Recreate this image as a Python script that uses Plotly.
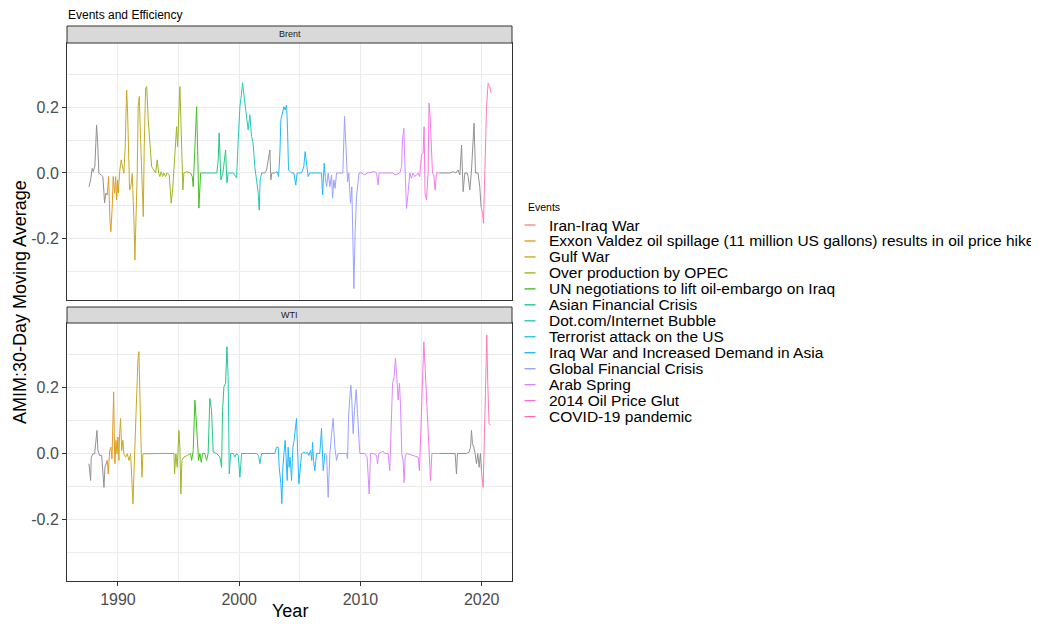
import plotly.graph_objects as go

# ---------------- data ----------------
EVENTS = [
    "Iran-Iraq War",
    "Exxon Valdez oil spillage (11 million US gallons) results in oil price hike",
    "Gulf War",
    "Over production by OPEC",
    "UN negotiations to lift oil-embargo on Iraq",
    "Asian Financial Crisis",
    "Dot.com/Internet Bubble",
    "Terrorist attack on the US",
    "Iraq War and Increased Demand in Asia",
    "Global Financial Crisis",
    "Arab Spring",
    "2014 Oil Price Glut",
    "COVID-19 pandemic",
]
EVENT_COLORS = ["#F8766D", "#E18A00", "#BE9C00", "#8CAB00", "#24B700", "#00BE70",
                "#00C1AB", "#00BBDA", "#00ACFC", "#8B93FF", "#D575FE", "#F962DD", "#FF65AC"]
EVENT_START = [None, 1989.15, 1990.05, 1992.32, 1996.0, 1997.5, 1999.05, 2001.7,
               2003.0, 2007.1, 2009.9, 2014.9, 2020.0]
EVENT_END = [None, 1990.05, 1992.32, 1996.0, 1997.5, 1999.05, 2001.7, 2001.95,
             2007.1, 2009.9, 2014.9, 2016.9, 2021.5]
NO_EVENT_COLOR = "#7F7F7F"

BRENT_YEAR = [
    1987.61, 1987.75, 1987.88, 1987.96, 1988.10, 1988.24, 1988.33, 1988.39, 1988.43, 1988.62,
    1988.76, 1988.90, 1989.01, 1989.12, 1989.23, 1989.34, 1989.42, 1989.53, 1989.61, 1989.73,
    1989.81, 1989.89, 1989.97, 1990.02, 1990.08, 1990.16, 1990.27, 1990.39, 1990.49, 1990.60,
    1990.72, 1990.80, 1990.88, 1990.96, 1991.07, 1991.18, 1991.32, 1991.40, 1991.48, 1991.59,
    1991.67, 1991.76, 1991.87, 1991.98, 1992.09, 1992.17, 1992.28, 1992.37, 1992.50, 1992.64,
    1992.78, 1992.97, 1993.11, 1993.24, 1993.36, 1993.46, 1993.57, 1993.69, 1993.79, 1993.93,
    1994.06, 1994.23, 1994.39, 1994.51, 1994.62, 1994.72, 1994.84, 1994.92, 1995.03, 1995.11,
    1995.19, 1995.28, 1995.36, 1995.44, 1995.71, 1995.99, 1996.13, 1996.21, 1996.35, 1996.49,
    1996.60, 1996.68, 1996.82, 1997.03, 1997.58, 1998.16, 1998.27, 1998.35, 1998.43, 1998.49,
    1998.66, 1998.88, 1998.99, 1999.09, 1999.51, 1999.79, 1999.92, 2000.06, 2000.18, 2000.28,
    2000.47, 2000.61, 2000.74, 2000.88, 2001.02, 2001.15, 2001.29, 2001.43, 2001.57, 2001.65,
    2001.73, 2001.85, 2002.12, 2002.26, 2002.53, 2002.61, 2002.70, 2002.94, 2003.13, 2003.25,
    2003.36, 2003.44, 2003.58, 2003.69, 2003.79, 2003.91, 2003.99, 2004.07, 2004.32, 2004.51,
    2004.67, 2004.78, 2005.14, 2005.33, 2005.44, 2005.56, 2005.69, 2005.83, 2006.79, 2006.88,
    2007.01, 2007.09, 2007.21, 2007.34, 2007.48, 2007.62, 2007.70, 2007.81, 2007.91, 2008.03,
    2008.55, 2008.69, 2008.80, 2008.94, 2009.04, 2009.18, 2009.29, 2009.40, 2009.46, 2009.56,
    2009.68, 2009.79, 2009.89, 2010.09, 2010.36, 2010.55, 2011.19, 2011.33, 2011.46, 2011.54,
    2012.70, 2012.84, 2013.25, 2013.39, 2013.47, 2013.58, 2013.69, 2013.80, 2013.93, 2014.07,
    2014.21, 2014.34, 2014.48, 2014.76, 2014.88, 2015.04, 2015.17, 2015.25, 2015.33, 2015.45,
    2015.58, 2015.66, 2015.75, 2015.86, 2015.94, 2016.05, 2016.16, 2016.27, 2016.55, 2017.10,
    2017.37, 2017.64, 2017.87, 2018.05, 2018.20, 2018.34, 2018.47, 2018.61, 2018.80, 2018.88,
    2019.02, 2019.16, 2019.29, 2019.37, 2019.49, 2019.70, 2019.84, 2019.95, 2020.07, 2020.15,
    2020.26, 2020.40, 2020.53, 2020.67, 2020.78,
]
BRENT_AMIM = [
    -0.042, -0.021, 0.014, 0.004, 0.021, 0.146, 0.091, 0.040, -0.001, -0.006,
    -0.011, -0.091, -0.061, -0.067, -0.011, -0.143, -0.179, -0.103, -0.011, -0.062,
    -0.011, -0.082, -0.021, -0.061, -0.011, 0.009, 0.040, 0.019, -0.001, 0.080,
    0.253, 0.182, 0.019, -0.052, -0.042, -0.001, -0.143, -0.265, -0.153, -0.001,
    0.202, 0.233, 0.101, -0.001, -0.133, 0.080, 0.258, 0.263, 0.162, 0.080,
    0.019, 0.009, 0.000, 0.040, -0.001, -0.011, 0.004, -0.011, 0.000, -0.011,
    0.000, -0.006, -0.092, -0.052, 0.019, 0.101, 0.141, 0.080, 0.202, 0.263,
    0.162, 0.030, -0.052, 0.000, 0.004, 0.000, -0.011, -0.042, 0.111, 0.202,
    0.030, -0.107, 0.000, 0.000, 0.000, 0.000, 0.040, 0.122, 0.040, -0.021,
    0.000, 0.070, -0.030, 0.000, 0.000, -0.015, 0.101, 0.202, 0.238, 0.275,
    0.213, 0.162, 0.131, 0.177, 0.111, 0.091, 0.019, -0.021, -0.062, -0.113,
    -0.021, 0.000, 0.000, 0.009, 0.070, -0.021, 0.000, 0.000, 0.004, -0.011,
    0.061, 0.162, 0.182, 0.202, 0.192, 0.207, 0.131, 0.009, 0.000, 0.000,
    -0.037, 0.000, 0.000, 0.019, 0.065, 0.019, -0.011, 0.000, 0.000, -0.067,
    0.030, -0.011, -0.042, 0.000, -0.042, -0.006, -0.077, -0.021, -0.047, 0.000,
    0.000, 0.172, 0.070, -0.027, 0.000, -0.092, -0.042, -0.255, -0.352, -0.184,
    -0.072, -0.031, 0.000, 0.000, -0.006, 0.000, 0.004, 0.000, -0.037, 0.000,
    0.000, -0.006, 0.000, 0.019, 0.101, 0.136, 0.000, -0.108, -0.062, 0.000,
    -0.016, 0.000, -0.011, 0.000, -0.011, 0.055, 0.061, 0.141, -0.062, -0.082,
    0.000, 0.213, 0.172, 0.050, 0.000, -0.006, -0.052, 0.000, 0.000, 0.000,
    0.000, 0.004, 0.000, 0.009, -0.006, 0.085, -0.057, 0.000, 0.000, -0.011,
    -0.052, 0.009, 0.101, 0.152, 0.000, 0.000, -0.042, -0.103, -0.123, -0.153,
    0.000, 0.202, 0.273, 0.263, 0.243,
]

WTI_YEAR = [
    1987.61, 1987.67, 1987.75, 1987.80, 1987.94, 1988.08, 1988.19, 1988.27, 1988.35, 1988.49,
    1988.66, 1988.76, 1988.85, 1988.93, 1989.04, 1989.12, 1989.20, 1989.32, 1989.42, 1989.51,
    1989.59, 1989.65, 1989.70, 1989.75, 1989.84, 1989.92, 1990.00, 1990.08, 1990.14, 1990.22,
    1990.31, 1990.41, 1990.49, 1990.63, 1990.77, 1990.91, 1991.05, 1991.15, 1991.24, 1991.32,
    1991.43, 1991.54, 1991.65, 1991.73, 1991.81, 1991.90, 1991.98, 1992.06, 1992.14, 1992.64,
    1993.46, 1994.06, 1994.62, 1994.67, 1994.78, 1994.89, 1995.03, 1995.11, 1995.19, 1995.28,
    1995.44, 1995.71, 1995.99, 1996.08, 1996.21, 1996.29, 1996.35, 1996.46, 1996.57, 1996.65,
    1996.76, 1996.87, 1996.98, 1997.17, 1997.31, 1997.44, 1997.50, 1997.58, 1997.72, 1997.86,
    1998.14, 1998.41, 1998.55, 1998.63, 1998.74, 1998.88, 1998.99, 1999.09, 1999.18, 1999.29,
    1999.51, 1999.65, 1999.79, 1999.92, 2000.06, 2000.20, 2000.61, 2001.43, 2001.60, 2001.71,
    2001.85, 2001.98, 2002.94, 2003.08, 2003.22, 2003.30, 2003.44, 2003.52, 2003.60, 2003.69,
    2003.79, 2003.87, 2003.96, 2004.04, 2004.12, 2004.20, 2004.32, 2004.43, 2004.53, 2004.65,
    2004.73, 2004.81, 2004.92, 2005.00, 2005.14, 2005.33, 2005.50, 2005.61, 2005.75, 2005.89,
    2005.99, 2006.05, 2006.13, 2006.24, 2006.38, 2006.65, 2006.79, 2006.93, 2007.07, 2007.21,
    2007.34, 2007.48, 2007.62, 2007.75, 2007.89, 2008.03, 2008.16, 2008.85, 2008.94, 2009.02,
    2009.13, 2009.21, 2009.29, 2009.40, 2009.51, 2009.65, 2009.76, 2009.87, 2009.95, 2010.36,
    2010.55, 2010.72, 2010.83, 2011.05, 2011.33, 2011.41, 2011.52, 2011.74, 2011.87, 2012.01,
    2012.28, 2012.42, 2012.53, 2012.65, 2012.78, 2012.89, 2013.00, 2013.11, 2013.22, 2013.31,
    2013.41, 2013.52, 2013.60, 2013.69, 2013.80, 2014.76, 2014.87, 2015.00, 2015.12, 2015.23,
    2015.33, 2015.45, 2015.56, 2015.66, 2015.78, 2015.89, 2016.55, 2017.10, 2017.81, 2017.92,
    2018.00, 2018.75, 2018.96, 2019.08, 2019.16, 2019.24, 2019.35, 2019.46, 2019.57, 2019.68,
    2019.79, 2019.90, 2019.98, 2020.12, 2020.23, 2020.34, 2020.42, 2020.50, 2020.61, 2020.73,
]
WTI_AMIM = [
    -0.031, -0.052, -0.082, -0.011, -0.001, -0.001, 0.040, 0.070, 0.009, -0.006,
    -0.006, -0.062, -0.103, -0.042, -0.027, -0.021, -0.062, 0.009, 0.019, -0.016,
    0.111, 0.187, 0.050, -0.031, 0.040, -0.001, 0.050, -0.021, 0.060, 0.106,
    0.009, 0.040, -0.001, -0.011, -0.001, -0.021, -0.001, -0.082, -0.153, -0.062,
    0.060, 0.202, 0.284, 0.309, 0.141, 0.040, -0.072, -0.001, -0.001, 0.000,
    0.000, 0.000, 0.000, -0.062, -0.001, -0.042, 0.070, 0.019, -0.123, -0.021,
    -0.011, -0.006, 0.000, -0.021, 0.009, 0.080, 0.162, 0.101, 0.040, -0.021,
    0.000, -0.027, 0.000, 0.000, -0.021, 0.000, 0.080, 0.167, 0.131, 0.004,
    0.000, -0.011, -0.042, 0.131, 0.202, 0.213, 0.324, 0.233, -0.062, 0.000,
    0.000, -0.011, 0.000, -0.006, -0.072, 0.000, 0.000, 0.000, -0.006, -0.031,
    0.000, 0.000, 0.000, 0.019, 0.019, -0.042, -0.092, -0.152, -0.042, 0.009,
    0.040, -0.011, -0.082, 0.019, -0.042, -0.011, -0.082, 0.019, 0.040, 0.080,
    0.106, 0.019, -0.092, -0.062, -0.001, 0.004, 0.000, 0.004, -0.006, 0.009,
    -0.021, 0.034, -0.021, -0.052, 0.000, 0.000, 0.076, -0.052, 0.000, -0.006,
    -0.133, 0.000, 0.060, 0.106, 0.019, -0.021, 0.000, 0.000, -0.016, 0.111,
    0.172, 0.207, 0.162, 0.060, 0.131, 0.194, 0.121, 0.050, 0.000, 0.000,
    -0.011, -0.123, 0.000, 0.000, -0.006, -0.031, 0.000, 0.004, 0.007, 0.000,
    0.000, -0.052, 0.060, 0.213, 0.233, 0.289, 0.233, 0.162, 0.213, 0.141,
    0.000, -0.021, -0.088, -0.011, 0.000, -0.011, -0.052, 0.111, 0.263, 0.339,
    0.263, 0.162, 0.060, 0.000, -0.082, 0.000, 0.000, 0.000, 0.000, -0.062,
    0.000, 0.000, 0.004, 0.019, 0.070, 0.030, 0.019, 0.000, -0.031, 0.000,
    -0.042, 0.000, -0.052, -0.103, 0.060, 0.263, 0.360, 0.213, 0.091, 0.085,
]

PANELS = ["Brent", "WTI"]
X_TICKS = [1990, 2000, 2010, 2020]
Y_TICKS = [-0.2, 0.0, 0.2]
Y_TICK_TEXT = ["-0.2", "0.0", "0.2"]

# ---------------- layout helpers ----------------
# The page places the figure 8px from the window's top-left corner, so the
# figure is sized/margined to compensate; positions below are window pixels.
OFF = 8
W, H = 1039 - OFF, 625 - OFF
P_LEFT, P_RIGHT, P_TOP, P_BOTTOM = 67, 512, 26, 581
ML = P_LEFT - OFF
MT = P_TOP - OFF
MR = W - (P_RIGHT - OFF)
MB = H - (P_BOTTOM - OFF)
PW, PH = P_RIGHT - P_LEFT, P_BOTTOM - P_TOP


def px_x(p):
    return (p - P_LEFT) / PW


def px_y(p):
    return (P_BOTTOM - p) / PH


FONT = "Liberation Sans, Arial, sans-serif"


def event_of(year):
    for i, (s, e) in enumerate(zip(EVENT_START, EVENT_END)):
        if s is not None and s <= year < e:
            return i
    return None


def runs(years, vals):
    out = []
    cur_ev, xs, ys = None, [], []
    for k, (yr, v) in enumerate(zip(years, vals)):
        ev = event_of(yr)
        if k == 0:
            cur_ev, xs, ys = ev, [yr], [v]
            continue
        if ev != cur_ev:
            out.append((cur_ev, xs, ys))
            xs, ys = [years[k - 1]], [vals[k - 1]]
            cur_ev = ev
        xs.append(yr)
        ys.append(v)
    out.append((cur_ev, xs, ys))
    return out


fig = go.Figure()
for pi, (yrs, vals) in enumerate([(BRENT_YEAR, BRENT_AMIM), (WTI_YEAR, WTI_AMIM)]):
    xa = "x" if pi == 0 else "x2"
    ya = "y" if pi == 0 else "y2"
    for ev, xs, ys in runs(yrs, vals):
        color = NO_EVENT_COLOR if ev is None else EVENT_COLORS[ev]
        fig.add_trace(go.Scatter(x=xs, y=ys, mode="lines", xaxis=xa, yaxis=ya,
                                 line=dict(color=color, width=1), opacity=0.85,
                                 showlegend=False, hoverinfo="skip"))

XR = [1985.8, 2022.5]
YR = [-0.387, 0.396]
grid = "#EBEBEB"
axis_common = dict(showgrid=True, gridcolor=grid, gridwidth=1, zeroline=False,
                   showline=True, linecolor="#333333", linewidth=1, mirror=True,
                   automargin=False)

top_dom = [px_y(300), px_y(43)]
bot_dom = [px_y(581), px_y(323)]

fig.update_layout(
    width=W, height=H, autosize=False,
    margin=dict(l=ML, r=MR, t=MT, b=MB),
    paper_bgcolor="white", plot_bgcolor="white",
    showlegend=False,
    font=dict(family=FONT, color="#000000"),
    xaxis=dict(domain=[0, 1], anchor="y", range=XR, tickvals=X_TICKS,
               showticklabels=False, ticks="",
               minor=dict(dtick=5, tick0=1985, showgrid=True, gridcolor=grid, gridwidth=1),
               **axis_common),
    xaxis2=dict(domain=[0, 1], anchor="y2", range=XR, tickvals=X_TICKS,
                ticks="outside", ticklen=4, tickcolor="#333333",
                tickfont=dict(size=16, color="#4D4D4D", family=FONT),
                minor=dict(dtick=5, tick0=1985, showgrid=True, gridcolor=grid, gridwidth=1),
                **axis_common),
    yaxis=dict(domain=top_dom, anchor="x", range=YR, tickvals=Y_TICKS, ticktext=Y_TICK_TEXT,
               ticks="outside", ticklen=4, tickcolor="#333333",
               tickfont=dict(size=16, color="#4D4D4D", family=FONT),
               minor=dict(dtick=0.1, tick0=0, showgrid=True, gridcolor=grid, gridwidth=1),
               **axis_common),
    yaxis2=dict(domain=bot_dom, anchor="x2", range=YR, tickvals=Y_TICKS, ticktext=Y_TICK_TEXT,
                ticks="outside", ticklen=4, tickcolor="#333333",
                tickfont=dict(size=16, color="#4D4D4D", family=FONT),
                minor=dict(dtick=0.1, tick0=0, showgrid=True, gridcolor=grid, gridwidth=1),
                **axis_common),
)

shapes = []
annotations = []
# facet strips
for name, (s_top, s_bot) in zip(PANELS, [(26, 43), (307, 323)]):
    shapes.append(dict(type="rect", xref="paper", yref="paper",
                       x0=0, x1=1, y0=px_y(s_bot), y1=px_y(s_top),
                       fillcolor="#D9D9D9", line=dict(color="#333333", width=1), layer="above"))
    annotations.append(dict(text=name, xref="paper", yref="paper", x=0.5,
                            y=px_y((s_top + s_bot) / 2), xanchor="center", yanchor="middle",
                            showarrow=False, font=dict(size=9, color="#1A1A1A", family=FONT)))

# title
annotations.append(dict(text="Events and Efficiency", xref="paper", yref="paper",
                        x=px_x(66), y=px_y(15), xanchor="left", yanchor="middle",
                        showarrow=False, font=dict(size=12, color="#000000", family=FONT)))
# axis titles
annotations.append(dict(text="AMIM:30-Day Moving Average", xref="paper", yref="paper",
                        x=px_x(20), y=px_y(302), xanchor="center", yanchor="middle",
                        textangle=-90, showarrow=False,
                        font=dict(size=18, color="#000000", family=FONT)))
annotations.append(dict(text="Year", xref="paper", yref="paper",
                        x=px_x(289.5), y=px_y(611), xanchor="center", yanchor="middle",
                        showarrow=False, font=dict(size=18, color="#000000", family=FONT)))

# legend (drawn by hand to match ggplot's compact key)
annotations.append(dict(text="Events", xref="paper", yref="paper",
                        x=px_x(526), y=px_y(207), xanchor="left", yanchor="middle",
                        showarrow=False, font=dict(size=10.5, color="#000000", family=FONT)))
for i, (name, col) in enumerate(zip(EVENTS, EVENT_COLORS)):
    yc = 225 + i * 15.97
    shapes.append(dict(type="line", xref="paper", yref="paper",
                       x0=px_x(524.5), x1=px_x(535.5), y0=px_y(yc), y1=px_y(yc),
                       line=dict(color=col, width=1.2)))
    annotations.append(dict(text=name, xref="paper", yref="paper",
                            x=px_x(547), y=px_y(yc), xanchor="left", yanchor="middle",
                            showarrow=False, font=dict(size=15.5, color="#000000", family=FONT)))

fig.update_layout(shapes=shapes, annotations=annotations)
fig.write_html("out.html")
